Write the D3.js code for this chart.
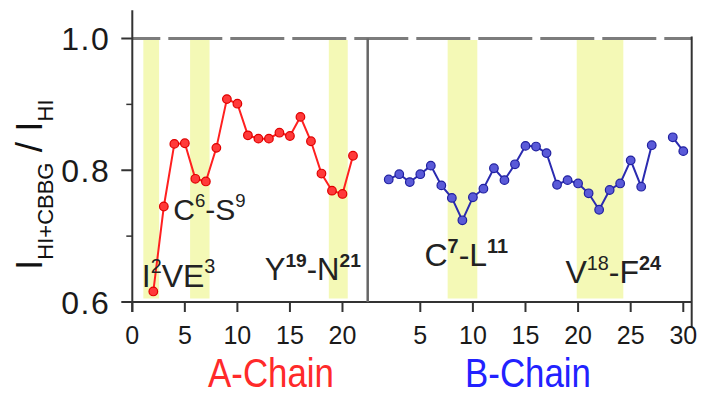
<!DOCTYPE html>
<html>
<head>
<meta charset="utf-8">
<script src="https://cdn.jsdelivr.net/npm/d3@7/dist/d3.min.js"></script>
<style>
  html, body { margin: 0; padding: 0; background: #fff; }
  svg { display: block; font-family: "Liberation Sans", Arial, sans-serif; }
</style>
</head>
<body>
<svg id="chart" width="706" height="410"></svg>
<script>
// Residue numbers and intensity ratios for each insulin chain
const residuesA = [2, 3, 4, 5, 6, 7, 8, 9, 10, 11, 12, 13, 14, 15, 16, 17, 18, 19, 20, 21];
const ratioA = [0.616, 0.745, 0.840, 0.841, 0.787, 0.783, 0.834, 0.908, 0.901, 0.853,
                0.848, 0.848, 0.857, 0.852, 0.881, 0.844, 0.795, 0.769, 0.764, 0.822];

const residuesB = [2, 3, 4, 5, 6, 7, 8, 9, 10, 11, 12, 13, 14, 15, 16, 17, 18, 19, 20, 21,
                   22, 23, 24, 25, 26, 27, 28, 29, 30];
const ratioB = [0.786, 0.794, 0.782, 0.794, 0.807, 0.777, 0.758, 0.724, 0.759, 0.772,
                0.803, 0.785, 0.809, 0.837, 0.836, 0.826, 0.778, 0.785, 0.780, 0.765,
                0.740, 0.770, 0.780, 0.815, 0.775, 0.838, null, 0.850, 0.829];

// Highlighted residue ranges (start, end in residue units)
const bandsA = [[1.05, 2.55], [5.5, 7.35], [18.7, 20.5]];
const bandsB = [[7.6, 10.42], [19.87, 24.3]];

// Axis ticks
const ticksXA = [0, 5, 10, 15, 20];
const ticksXB = [5, 10, 15, 20, 25, 30];
const ticksYMajor = [0.6, 0.8, 1.0];
const ticksYMinor = [0.7, 0.9];
const tickLabelsY = ["0.6", "0.8", "1.0"];

const svg = d3.select("#chart");

const y = d3.scaleLinear().domain([0.6, 1.0]).range([302, 38.5]);
const xA = d3.scaleLinear().domain([0, 22.4]).range([132.3, 367.7]);
const xB = d3.scaleLinear().domain([0, 30.8]).range([367.7, 691.7]);

const bandFill = "#f4f9b6";
const axisColor = "#333";

// Highlight bands
function drawBands(bands, x) {
  svg.append("g").selectAll("rect").data(bands).join("rect")
    .attr("x", d => x(d[0]))
    .attr("width", d => x(d[1]) - x(d[0]))
    .attr("y", y(1.0) + 1.5)
    .attr("height", (y(0.6) - 3.5) - (y(1.0) + 1.5))
    .attr("fill", bandFill);
}
drawBands(bandsA, xA);
drawBands(bandsB, xB);

// Reference line at ratio = 1
svg.append("line")
  .attr("x1", xA(0)).attr("x2", xB(30.8))
  .attr("y1", y(1.0)).attr("y2", y(1.0))
  .attr("stroke", "#7c7c7c").attr("stroke-width", 3)
  .attr("stroke-dasharray", "54 8").attr("stroke-dashoffset", 26);

// Left y axis (line runs a little above 1.0)
svg.append("line")
  .attr("x1", xA(0)).attr("x2", xA(0))
  .attr("y1", y(1.043)).attr("y2", y(0.6) + 10)
  .attr("stroke", axisColor).attr("stroke-width", 2);

const yAxis = svg.append("g").attr("transform", `translate(${xA(0)},0)`);
yAxis.selectAll("line.major").data(ticksYMajor).join("line").attr("class", "major")
  .attr("x1", -11).attr("x2", 0).attr("y1", d => y(d)).attr("y2", d => y(d))
  .attr("stroke", axisColor).attr("stroke-width", 2);
yAxis.selectAll("line.minor").data(ticksYMinor).join("line").attr("class", "minor")
  .attr("x1", -6).attr("x2", 0).attr("y1", d => y(d)).attr("y2", d => y(d))
  .attr("stroke", axisColor).attr("stroke-width", 1.5);
yAxis.selectAll("text").data(ticksYMajor).join("text")
  .attr("x", -22).attr("y", d => y(d))
  .attr("dy", "0.36em")
  .attr("text-anchor", "end")
  .attr("font-size", 32)
  .attr("letter-spacing", 1.5)
  .attr("fill", "#1a1a1a")
  .text((d, i) => tickLabelsY[i]);

// Bottom axis line
svg.append("line")
  .attr("x1", xA(0)).attr("x2", xB(30.8))
  .attr("y1", y(0.6)).attr("y2", y(0.6))
  .attr("stroke", axisColor).attr("stroke-width", 2);

// Panel separator
svg.append("line")
  .attr("x1", xB(0)).attr("x2", xB(0))
  .attr("y1", y(1.0)).attr("y2", y(0.6))
  .attr("stroke", "#666").attr("stroke-width", 2.5);

// Right frame
svg.append("line")
  .attr("x1", xB(30.8)).attr("x2", xB(30.8))
  .attr("y1", y(1.0) - 2).attr("y2", y(0.6) + 26)
  .attr("stroke", axisColor).attr("stroke-width", 2);

// x ticks and labels
function drawXTicks(ticks, x) {
  const g = svg.append("g");
  g.selectAll("line").data(ticks).join("line")
    .attr("x1", d => x(d)).attr("x2", d => x(d))
    .attr("y1", y(0.6)).attr("y2", y(0.6) + 10)
    .attr("stroke", axisColor).attr("stroke-width", 2);
  g.selectAll("text").data(ticks).join("text")
    .attr("x", d => x(d)).attr("y", y(0.6) + 42)
    .attr("text-anchor", "middle")
    .attr("font-size", 25)
    .attr("fill", "#1a1a1a")
    .text(d => d);
}
drawXTicks(ticksXA, xA);
drawXTicks(ticksXB, xB);

// Series lines and markers
function drawSeries(residues, values, x, color, fill, stroke) {
  const pts = residues.map((r, i) => ({ r, v: values[i] }));
  const line = d3.line().defined(d => d.v != null).x(d => x(d.r)).y(d => y(d.v));
  svg.append("path").datum(pts)
    .attr("d", line)
    .attr("fill", "none").attr("stroke", color).attr("stroke-width", 2);
  svg.append("g").selectAll("circle").data(pts.filter(d => d.v != null)).join("circle")
    .attr("cx", d => x(d.r)).attr("cy", d => y(d.v)).attr("r", 4.3)
    .attr("fill", fill).attr("stroke", stroke).attr("stroke-width", 1.2);
}
drawSeries(residuesA, ratioA, xA, "#ff2020", "#ff3a3a", "#e00000");
drawSeries(residuesB, ratioB, xB, "#2b2bb0", "#5a5ad8", "#2020a0");

// Region annotations with superscript residue numbers
function annotate(x0, yBase, parts, size) {
  const t = svg.append("text").attr("x", x0).attr("y", yBase)
    .attr("font-size", size).attr("fill", "#222");
  let raised = false;
  parts.forEach(p => {
    const sup = p.sup === true;
    const ts = t.append("tspan").text(p.t);
    if (sup) {
      ts.attr("font-size", size * 0.62).attr("dy", raised ? 0 : -size * 0.42);
      if (p.bold) ts.attr("font-weight", "bold");
      raised = true;
    } else {
      ts.attr("dy", raised ? size * 0.42 : 0);
      raised = false;
    }
  });
}
annotate(xA(0.9), 286.5, [{t: "I"}, {t: "2", sup: true}, {t: "VE"}, {t: "3", sup: true}], 32);
annotate(xA(3.9), 220, [{t: "C"}, {t: "6", sup: true}, {t: "-S"}, {t: "9", sup: true}], 30);
annotate(xA(12.6), 280, [{t: "Y"}, {t: "19", sup: true, bold: true}, {t: "-N"}, {t: "21", sup: true, bold: true}], 31);
annotate(xB(5.4), 266, [{t: "C"}, {t: "7", sup: true, bold: true}, {t: "-L"}, {t: "11", sup: true, bold: true}], 32);
annotate(xB(18.8), 283, [{t: "V"}, {t: "18", sup: true}, {t: "-F"}, {t: "24", sup: true, bold: true}], 32);

// Chain labels (slightly condensed lettering)
svg.append("text").attr("transform", "translate(271,387) scale(0.85,1)")
  .attr("text-anchor", "middle").attr("font-size", 41).attr("fill", "#ff2a2a")
  .text("A-Chain");
svg.append("text").attr("transform", "translate(528,387) scale(0.85,1)")
  .attr("text-anchor", "middle").attr("font-size", 41).attr("fill", "#2222ff")
  .text("B-Chain");

// Y axis title: I_{HI+CBBG} / I_{HI}
const title = svg.append("text")
  .attr("transform", "translate(42,270) rotate(-90)")
  .attr("font-size", 37).attr("fill", "#111");
title.append("tspan").text("I");
title.append("tspan").text("HI+CBBG").attr("font-size", 22).attr("dy", 11);
title.append("tspan").text(" / I").attr("dy", -11);
title.append("tspan").text("HI").attr("font-size", 22).attr("dy", 11);
</script>
</body>
</html>
